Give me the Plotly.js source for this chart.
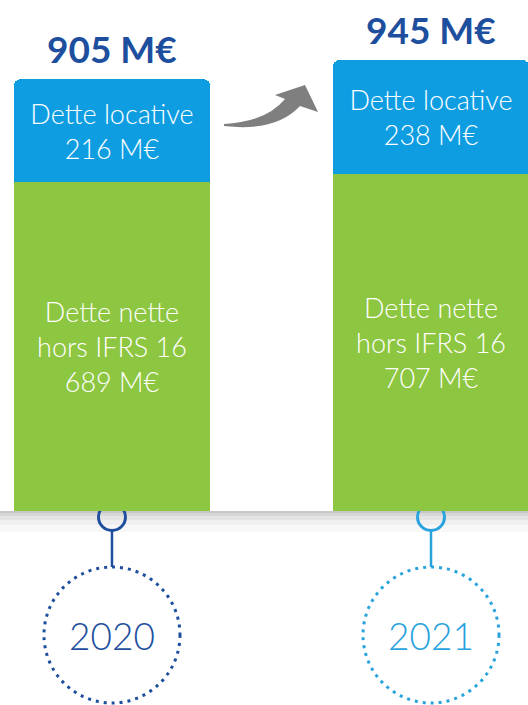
<!DOCTYPE html>
<html>
<head>
<meta charset="utf-8">
<script src="https://cdn.plot.ly/plotly-3.0.1.min.js"></script>
<style>
html,body{margin:0;padding:0;background:#fff;}
#chart{width:528px;height:705px;}
</style>
</head>
<body>
<div id="chart"></div>
<script>
// ---- data ----
const categories = ['2020', '2021'];
const detteLocative = [216, 238];
const detteNetteHorsIFRS16 = [689, 707];
const totalDette = [905, 945];
const labelLocative = 'Dette locative';
const labelNette = 'Dette nette<br>hors IFRS 16';
const unit = 'M€';

// ---- layout helpers (pixel geometry of the page) ----
const W = 528, H = 705, plotBottom = 511;
const xr = [-0.351, 1.304];
const pxPerUnit = W / (xr[1] - xr[0]);
const yTop = 1071;
const py = p => (plotBottom - p) / plotBottom;   // pixel y -> paper y
const pxx = p => p / W;                         // pixel x -> paper x

const blue = '#0f9de2', green = '#8dc641';
const yearColors = ['#1d4f9e', '#29a3dd'];
const darkBlue = '#1d4f9e';
const innerFont = {family: 'Lato', size: 27, color: '#ffffff', weight: 300};

const traceNet = {
  type: 'bar', x: categories, y: detteNetteHorsIFRS16, name: 'net',
  marker: {color: green, line: {width: 0}},
  width: 0.617,
  texttemplate: labelNette + '<br>%{y} ' + unit,
  textposition: 'inside', insidetextanchor: 'middle', textangle: 0,
  constraintext: 'none', textfont: innerFont, hoverinfo: 'skip'
};
const traceLoc = {
  type: 'bar', x: categories, y: detteLocative, name: 'loc',
  marker: {color: blue, line: {width: 0}},
  width: 0.617,
  texttemplate: labelLocative + '<br>%{y} ' + unit,
  textposition: 'inside', insidetextanchor: 'middle', textangle: 0,
  constraintext: 'none', textfont: innerFont, hoverinfo: 'skip'
};

const shapes = [];
// soft shadow under the bars
[[2, 0.10], [5, 0.08], [9, 0.06], [14, 0.05], [21, 0.04]].forEach(([h, o]) => {
  shapes.push({type: 'rect', xref: 'paper', yref: 'paper', layer: 'below',
    x0: 0, x1: 1, y0: py(plotBottom), y1: py(plotBottom + h),
    fillcolor: 'rgba(70,70,70,' + o + ')', line: {width: 0}});
});
// curved arrow between the bars
const arrowPts = 'M 224 124 Q 266 122 285 99 L 275 95 L 305 85 L 318 112 L 300 106 Q 276 132 224 126 Z';
const arrowPath = arrowPts.replace(/(-?\d+(?:\.\d+)?) (-?\d+(?:\.\d+)?)/g,
  (m, a, b) => pxx(+a).toFixed(5) + ',' + py(+b).toFixed(5));
shapes.push({type: 'path', xref: 'paper', yref: 'paper', path: arrowPath,
  fillcolor: '#7f7f7f', line: {width: 0}});

const annotations = [];
categories.forEach((c, i) => {
  const col = yearColors[i];
  const rSmall = 13.5 / pxPerUnit, rBig = 68 / pxPerUnit;
  shapes.push({type: 'circle', xref: 'x', yref: 'paper', layer: 'below',
    x0: i - rSmall, x1: i + rSmall, y0: py(517 + 13.5), y1: py(517 - 13.5),
    line: {color: col, width: 3}, fillcolor: 'rgba(0,0,0,0)'});
  shapes.push({type: 'line', xref: 'x', yref: 'paper', layer: 'below',
    x0: i, x1: i, y0: py(531), y1: py(567), line: {color: col, width: 2.5}});
  shapes.push({type: 'circle', xref: 'x', yref: 'paper',
    x0: i - rBig, x1: i + rBig, y0: py(635 + 68), y1: py(635 - 68),
    line: {color: col, width: 3, dash: '3px,5px'}, fillcolor: 'rgba(0,0,0,0)'});
  annotations.push({xref: 'x', yref: 'paper', x: i, y: py(635), text: c,
    showarrow: false, xanchor: 'center', yanchor: 'middle',
    font: {family: 'Lato', size: 37, color: col, weight: 300}});
  annotations.push({xref: 'x', yref: 'y', x: i, y: totalDette[i], text: totalDette[i] + ' ' + unit,
    showarrow: false, xanchor: 'center', yanchor: 'bottom', yshift: 6,
    font: {family: 'Lato', size: 37, color: darkBlue, weight: 700}});
});

const layout = {
  width: W, height: H,
  margin: {l: 0, r: 0, t: 0, b: H - plotBottom, pad: 0},
  paper_bgcolor: '#ffffff', plot_bgcolor: 'rgba(0,0,0,0)',
  barmode: 'stack', barcornerradius: 7, showlegend: false,
  xaxis: {type: 'category', range: xr, visible: false, fixedrange: true},
  yaxis: {range: [0, yTop], visible: false, fixedrange: true},
  shapes: shapes, annotations: annotations
};

Plotly.newPlot('chart', [traceNet, traceLoc], layout, {displayModeBar: false, staticPlot: true});
</script>
</body>
</html>
